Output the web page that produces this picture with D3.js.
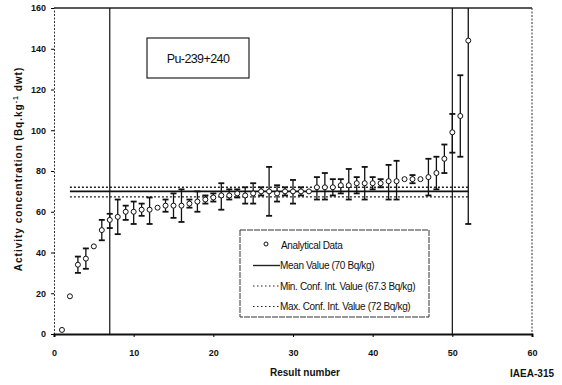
<!DOCTYPE html>
<html>
<head>
<meta charset="utf-8">
<script src="https://cdn.jsdelivr.net/npm/d3@7"></script>
<style>
  body { margin: 0; background: #fff; }
  svg { display: block; font-family: "Liberation Sans", Arial, sans-serif; }
</style>
</head>
<body>
<div id="chart"></div>
<script>
// result number, value, lower / upper end of the error bar (Bq/kg)
const resultNumbers = d3.range(1, 53)
const values = [2, 18.5, 34, 37, 43, 51, 56, 57.5, 60, 60, 61, 61, 62, 63, 63, 63, 64, 65, 66, 67,
    68, 68, 69, 68, 69, 70, 70, 69, 70, 70, 70, 70, 72, 72, 72, 73, 73, 74, 74, 74,
    74, 75, 75, 76, 76, 76, 77, 79, 86, 99, 107, 144]
const lowers = [2, 18.5, 30, 32, 43, 46, 52, 49, 56, 54, 58, 54, 61, 60, 57, 55, 62, 60, 64, 65,
    61, 66, 67, 64, 64, 68, 58, 65, 68, 64, 68, 69, 66, 66, 68, 69, 66, 69, 66, 71,
    72, 66, 66, 75, 74, 75, 68, 71, 79, 89, 87, 54]
const uppers = [2, 18.5, 38, 42, 43, 56, 59, 66, 63, 65, 64, 67, 63, 66, 69, 71, 66, 70, 68, 69,
    74, 71, 71, 72, 74, 72, 82, 73, 72, 75.6, 72, 71, 77, 79, 76, 76, 81, 77, 82, 77,
    76, 83, 85, 77, 78, 77, 86, 87, 93, 108, 127, 175]

const meanValue = 70
const minConf = 67.3
const maxConf = 72
const refLineRange = [2, 52]
const cutoffs = [7, 50]

const xTicks = d3.range(0, 61, 10)
const yTicks = d3.range(0, 161, 20)

const legendItems = [
    { label: 'Analytical Data', kind: 'point' },
    { label: 'Mean Value (70 Bq/kg)', kind: 'solid' },
    { label: 'Min. Conf. Int. Value (67.3 Bq/kg)', kind: 'dotted' },
    { label: 'Max. Conf. Int. Value (72 Bq/kg)', kind: 'dotted' }
]

const data = resultNumbers.map((n, i) => ({ n, v: values[i], lo: lowers[i], hi: uppers[i] }))

const viewBoxWidth = 562
const viewBoxHeight = 385
const marginLeft = 54
const marginTop = 8
const width = 478
const height = 326

const svg = d3.select('#chart')
    .append('svg')
    .attr('width', viewBoxWidth)
    .attr('height', viewBoxHeight)
const plot = svg.append('g')
    .attr('transform', `translate(${marginLeft}, ${marginTop})`)

const x = d3.scaleLinear().domain([0, 60]).range([0, width])
const y = d3.scaleLinear().domain([0, 160]).range([height, 0])

svg.append('defs').append('clipPath').attr('id', 'plot-clip')
    .append('rect').attr('width', width).attr('height', height)

// frame: top solid, right dotted
plot.append('line').attr('x1', 0).attr('x2', width).attr('y1', 0).attr('y2', 0)
    .attr('stroke', '#222').attr('stroke-width', 1.5)
plot.append('line').attr('x1', width).attr('x2', width).attr('y1', 0).attr('y2', height)
    .attr('stroke', '#333').attr('stroke-width', 1).attr('stroke-dasharray', '2,1.5')

// axes
const yAxis = plot.append('g')
    .call(d3.axisLeft(y).tickValues(yTicks).tickSize(3).tickPadding(5))
yAxis.select('.domain').attr('stroke', '#333').attr('stroke-dasharray', '2,1.5')
yAxis.selectAll('text').attr('font-size', 9).attr('font-weight', 'bold').attr('fill', '#111')
const xAxis = plot.append('g')
    .attr('transform', `translate(0, ${height})`)
    .call(d3.axisBottom(x).tickValues(xTicks).tickSize(3).tickPadding(13))
xAxis.select('.domain').attr('stroke', '#111').attr('stroke-width', 2)
xAxis.selectAll('text').attr('font-size', 9).attr('font-weight', 'bold').attr('fill', '#111')

// reference lines
const refs = plot.append('g')
refs.append('line')
    .attr('x1', x(refLineRange[0])).attr('x2', x(refLineRange[1]))
    .attr('y1', y(meanValue)).attr('y2', y(meanValue))
    .attr('stroke', '#111').attr('stroke-width', 1.6)
refs.selectAll('line.conf')
    .data([minConf, maxConf])
    .enter()
    .append('line')
    .attr('class', 'conf')
    .attr('x1', x(refLineRange[0])).attr('x2', x(refLineRange[1]))
    .attr('y1', d => y(d)).attr('y2', d => y(d))
    .attr('stroke', '#222').attr('stroke-width', 1.4).attr('stroke-dasharray', '2,2')
refs.selectAll('line.cut')
    .data(cutoffs)
    .enter()
    .append('line')
    .attr('class', 'cut')
    .attr('x1', d => x(d)).attr('x2', d => x(d))
    .attr('y1', 0).attr('y2', height)
    .attr('stroke', '#111').attr('stroke-width', 1.2)

// error bars + points
const pts = plot.append('g').attr('clip-path', 'url(#plot-clip)')
const bars = pts.selectAll('g.bar')
    .data(data.filter(d => d.hi - d.lo > 2.5))
    .enter()
    .append('g')
    .attr('class', 'bar')
    .attr('stroke', '#111')
    .attr('stroke-width', 1.3)
bars.append('line')
    .attr('x1', d => x(d.n)).attr('x2', d => x(d.n))
    .attr('y1', d => y(d.lo)).attr('y2', d => y(d.hi))
bars.selectAll('line.cap')
    .data(d => [[d.n, d.lo], [d.n, d.hi]])
    .enter()
    .append('line')
    .attr('class', 'cap')
    .attr('stroke-width', 1.8)
    .attr('x1', d => x(d[0]) - 3).attr('x2', d => x(d[0]) + 3)
    .attr('y1', d => y(d[1])).attr('y2', d => y(d[1]))
pts.selectAll('circle')
    .data(data)
    .enter()
    .append('circle')
    .attr('cx', d => x(d.n))
    .attr('cy', d => y(d.v))
    .attr('r', 2.5)
    .attr('fill', '#fff')
    .attr('stroke', '#111')
    .attr('stroke-width', 1)

// title box
const titleBox = plot.append('g').attr('transform', 'translate(93, 30)')
titleBox.append('rect').attr('width', 102).attr('height', 40)
    .attr('fill', '#fff').attr('stroke', '#222').attr('stroke-width', 1.2)
titleBox.append('text').attr('x', 51).attr('y', 25)
    .attr('text-anchor', 'middle').attr('font-size', 12.5).attr('letter-spacing', -0.6)
    .attr('fill', '#111').text('Pu-239+240')

// legend
const legend = plot.append('g').attr('transform', 'translate(186, 222)')
legend.append('rect').attr('width', 189).attr('height', 87)
    .attr('fill', '#fff').attr('stroke', '#333').attr('stroke-width', 1)
    .attr('stroke-dasharray', '6,1')
const legendRow = legend.selectAll('g.row')
    .data(legendItems)
    .enter()
    .append('g')
    .attr('class', 'row')
    .attr('transform', (d, i) => `translate(0, ${15 + i * 20.5})`)
legendRow.filter(d => d.kind === 'point').append('circle')
    .attr('cx', 26).attr('cy', -1).attr('r', 2)
    .attr('fill', '#fff').attr('stroke', '#111')
legendRow.filter(d => d.kind !== 'point').append('line')
    .attr('x1', 13).attr('x2', 40).attr('y1', 0).attr('y2', 0)
    .attr('stroke', '#222').attr('stroke-width', d => d.kind === 'solid' ? 1.4 : 1.2)
    .attr('stroke-dasharray', d => d.kind === 'solid' ? null : '1.5,2.5')
legendRow.append('text')
    .attr('x', d => d.kind === 'point' ? 41 : 40).attr('y', 3.5)
    .attr('font-size', 10).attr('letter-spacing', -0.35).attr('fill', '#111')
    .text(d => d.label)

// axis titles
const yTitle = svg.append('text')
    .attr('transform', `translate(22, ${marginTop + height / 2 - 2}) rotate(-90)`)
    .attr('text-anchor', 'middle').attr('font-size', 10).attr('font-weight', 'bold')
    .attr('letter-spacing', 1).attr('fill', '#111')
yTitle.append('tspan').text('Activity concentration (Bq.kg')
yTitle.append('tspan').attr('dy', -4).attr('font-size', 7).text('-1')
yTitle.append('tspan').attr('dy', 4).text(' dwt)')

svg.append('text')
    .attr('x', marginLeft + x(31.5)).attr('y', 376)
    .attr('text-anchor', 'middle').attr('font-size', 10).attr('font-weight', 'bold')
    .attr('fill', '#111').text('Result number')
svg.append('text')
    .attr('x', 554).attr('y', 377)
    .attr('text-anchor', 'end').attr('font-size', 10).attr('font-weight', 'bold')
    .attr('fill', '#111').text('IAEA-315')
</script>
</body>
</html>
